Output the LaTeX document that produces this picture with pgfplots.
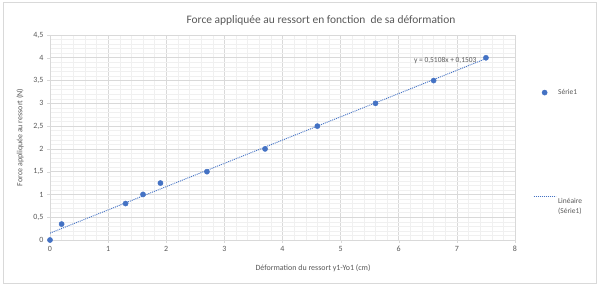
\documentclass[border=0pt]{standalone}
\usepackage{fontspec}
\setmainfont{Carlito}
\usepackage{pgfplots}
\pgfplotsset{compat=1.18}
\definecolor{xblue}{HTML}{4472C4}
\definecolor{xgrid}{HTML}{D9D9D9}
\definecolor{xminor}{HTML}{F0F0F0}
\definecolor{xtext}{HTML}{595959}
\pgfplotsset{
  markleg/.style={legend image code/.code={\draw[##1] plot coordinates {(11bp,0bp)};}},
  lineleg/.style={legend image code/.code={\draw[##1] (0bp,4.5bp) -- (22bp,4.5bp);}},
}
\begin{document}
\begin{tikzpicture}[x=1bp,y=1bp]
\fill[white] (0,0) rectangle (600,285);
\draw[xgrid, line width=0.6bp] (3,2) rectangle (596,283);
\node[font=\fontsize{11.5}{13}\selectfont, text=xtext] at (321,265) {Force appliquée au ressort en fonction\ \ de sa déformation};
\node[rotate=90, font=\fontsize{8}{9}\selectfont, text=xtext] at (20,147.5) {Force appliquée au ressort (N)};
\node[font=\fontsize{8}{9}\selectfont, text=xtext] at (313,17) {Déformation du ressort y1-Yo1 (cm)};
\begin{axis}[
  at={(50bp,45bp)}, anchor=south west, scale only axis,
  width=465bp, height=205bp,
  xmin=0, xmax=8, ymin=0, ymax=4.5,
  xtick={0,1,...,8}, ytick={0,0.5,...,4.5},
  xticklabels={0,1,2,3,4,5,6,7,8},
  yticklabels={0,{0,5},1,{1,5},2,{2,5},3,{3,5},4,{4,5}},
  minor x tick num=4, minor y tick num=4,
  grid=both,
  major grid style={draw=xgrid, line width=0.6bp},
  minor grid style={draw=xminor, line width=0.5bp},
  axis line style={draw=xgrid},
  tick align=outside, xtick pos=left, ytick pos=left,
  major tick length=3bp, minor tick length=0bp,
  tick style={draw=xgrid},
  ticklabel style={font=\fontsize{8}{9}\selectfont, text=xtext},
  clip mode=individual,
  legend cell align=left,
  legend style={draw=none, fill=none, inner sep=0pt, at={(1.0387,0.746)}, anchor=north west,
    font=\fontsize{7.5}{11}\selectfont, text=xtext, row sep=97bp,
    nodes={inner xsep=2bp}},
]
\addplot[only marks, mark=*, mark size=2.6bp, color=xblue, markleg]
  coordinates {(0,0) (0.2,0.35) (1.3,0.8) (1.6,1.0) (1.9,1.25) (2.7,1.5) (3.7,2.0) (4.6,2.5) (5.6,3.0) (6.6,3.5) (7.5,4.0)};
\addlegendentry{Série1}
\addplot[xblue, line width=0.9bp, dash pattern=on 1bp off 1bp, lineleg]
  coordinates {(0,0.1503) (7.5,3.9813)};
\addlegendentry{\renewcommand\arraystretch{0.9}\begin{tabular}[t]{@{}l@{}}Linéaire\\(Série1)\end{tabular}}
\node[font=\fontsize{7.5}{9}\selectfont, text=xtext] at (axis cs:6.80,3.95) {y = 0,5108x + 0,1503};
\end{axis}
\end{tikzpicture}
\end{document}
